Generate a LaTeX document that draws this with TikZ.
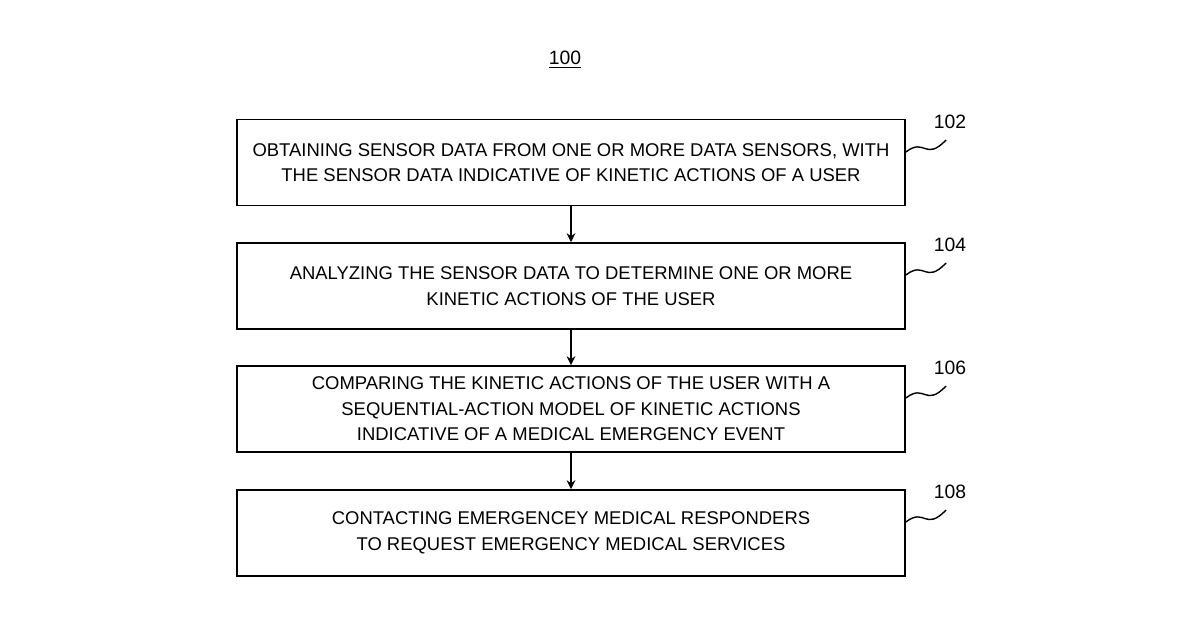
\documentclass[tikz,border=0pt]{standalone}
\usepackage{fontspec}
\setmainfont{Liberation Sans}
\usetikzlibrary{arrows.meta}
\tikzset{
  stepbox/.style={draw, line width=1.1pt, minimum width=13.36cm, minimum height=1.72cm, align=center, font=\fontsize{10.5}{14.5}\selectfont},
  flow/.style={-{Stealth[length=5pt,width=5pt]}, line width=1pt},
  tilde/.style={line width=0.8pt}
}
\begin{document}
\begin{tikzpicture}[x=0.02cm,y=-0.02cm]
  \useasboundingbox (0,0) rectangle (1200,630);
  \node[font=\fontsize{11}{13}\selectfont] (title) at (565,60) {\underline{100}};

  \node[stepbox] (s102) at (571,162.5) {OBTAINING SENSOR DATA FROM ONE OR MORE DATA SENSORS, WITH\\THE SENSOR DATA INDICATIVE OF KINETIC ACTIONS OF A USER};
  \node[stepbox] (s104) at (571,286) {ANALYZING THE SENSOR DATA TO DETERMINE ONE OR MORE\\KINETIC ACTIONS OF THE USER};
  \node[stepbox] (s106) at (571,409) {COMPARING THE KINETIC ACTIONS OF THE USER WITH A\\SEQUENTIAL-ACTION MODEL OF KINETIC ACTIONS\\INDICATIVE OF A MEDICAL EMERGENCY EVENT};
  \node[stepbox] (s108) at (571,533) {CONTACTING EMERGENCEY MEDICAL RESPONDERS\\TO REQUEST EMERGENCY MEDICAL SERVICES};

  \draw[flow] (s102) -- (s104);
  \draw[flow] (s104) -- (s106);
  \draw[flow] (s106) -- (s108);

  % reference numerals
  \foreach \n/\y in {102/122,104/245,106/368,108/492}{
    \node[font=\fontsize{11}{13}\selectfont] (l\n) at (950,\y) {\n};
    \draw[tilde] (s\n.east |- 0,\y+30) .. controls (925,\y+15) and (925,\y+40) .. (946,\y+18);
  }
\end{tikzpicture}
\end{document}
